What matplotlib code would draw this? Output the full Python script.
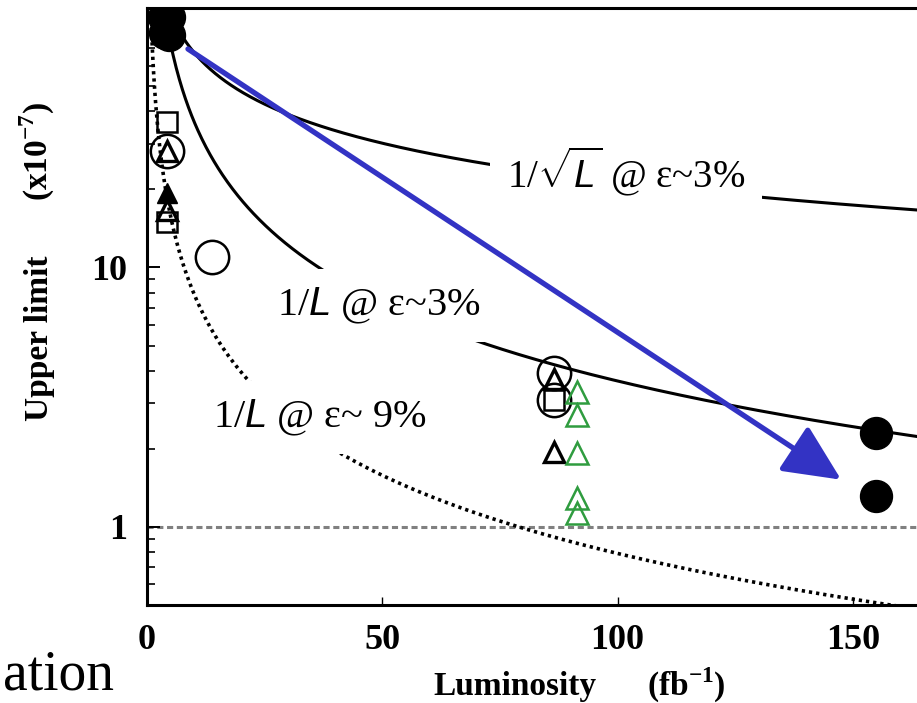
import numpy as np
import matplotlib
matplotlib.use("Agg")
import matplotlib.pyplot as plt
from matplotlib.ticker import LogLocator, NullFormatter, FixedLocator

plt.rcParams['font.family'] = ['Liberation Serif', 'DejaVu Serif']
plt.rcParams['mathtext.fontset'] = 'custom'
plt.rcParams['mathtext.rm'] = 'Liberation Serif'
plt.rcParams['mathtext.it'] = 'Liberation Sans:italic'
plt.rcParams['mathtext.bf'] = 'Liberation Serif:bold'

# ---- scaling curves: upper limit (x1e-7) versus luminosity (fb^-1) ----
k_sqrt_3pct = 213.0   # 1/sqrt(L) scaling, efficiency ~3%
k_inv_3pct = 365.0    # 1/L scaling, efficiency ~3%
k_inv_9pct = 79.0     # 1/L scaling, efficiency ~9%

# ---- measured upper limits ----
filled_circle_lumi = [3.7, 4.7, 3.8, 4.6, 155.0, 155.0]
filled_circle_ul = [92.0, 92.0, 80.0, 79.0, 2.31, 1.31]

open_circle_lumi = [4.2, 13.8, 86.4, 86.4]
open_circle_ul = [28.0, 11.0, 3.93, 3.09]

open_square_lumi = [4.2, 4.2, 86.4]
open_square_ul = [36.3, 15.0, 3.09]

open_tri_lumi = [4.2, 4.2, 86.4, 86.4]
open_tri_ul = [28.0, 16.6, 3.7, 1.95]

filled_tri_lumi = [4.2]
filled_tri_ul = [19.3]

green_tri_lumi = [91.3, 91.3, 91.3, 91.3, 91.3]
green_tri_ul = [3.32, 2.71, 1.93, 1.29, 1.13]

# projection arrow (start -> end), in luminosity / upper-limit units
arrow_start = (8.7, 69.5)
arrow_end = (147.5, 1.52)

x_ticks = [0, 50, 100, 150]
y_ticks = [1, 10]
y_tick_labels = ['1', '10']

W, H = 917, 703
fig = plt.figure(figsize=(W / 100, H / 100), dpi=100)
ax = fig.add_axes([147 / W, 98 / H, 793 / W, 597 / H])
ax.set_yscale('log')
ax.set_xlim(0, 168.5)
ax.set_ylim(0.5, 100)

lumi = np.linspace(0.3, 175, 800)
ax.plot(lumi, k_sqrt_3pct / np.sqrt(lumi), color='black', lw=2.2, zorder=2)
ax.plot(lumi, k_inv_3pct / lumi, color='black', lw=2.2, zorder=2)
ax.plot(lumi, k_inv_9pct / lumi, color='black', lw=2.6,
        linestyle=(0, (0.9, 1.1)), zorder=2)
ax.axhline(1.0, color='#808080', lw=2.2, linestyle=(0, (2.0, 1.2)), zorder=1)

ax.plot(filled_circle_lumi, filled_circle_ul, 'o', ms=23, color='black',
        mec='black', zorder=4)
ax.plot(open_circle_lumi, open_circle_ul, 'o', ms=24, mfc='none',
        mec='black', mew=1.8, zorder=4)
ax.plot(open_square_lumi, open_square_ul, 's', ms=15, mfc='none',
        mec='black', mew=1.8, zorder=4)
ax.plot(open_tri_lumi, open_tri_ul, '^', ms=15, mfc='none',
        mec='black', mew=2.4, zorder=4)
ax.plot(filled_tri_lumi, filled_tri_ul, '^', ms=15, color='black', zorder=4)
ax.plot(green_tri_lumi, green_tri_ul, '^', ms=16, mfc='none',
        mec='#2f9c3f', mew=1.8, zorder=4)

ax.annotate('', xy=arrow_end, xytext=arrow_start,
            arrowprops=dict(arrowstyle='-|>,head_length=1.6,head_width=0.75',
                            color='#3333c4', lw=3.8, mutation_scale=22,
                            shrinkA=0, shrinkB=0),
            zorder=5)

# axes styling
for side in ['left', 'bottom', 'top']:
    ax.spines[side].set_linewidth(2.2)
ax.spines['right'].set_visible(False)

ax.xaxis.set_major_locator(FixedLocator(x_ticks))
ax.set_yticks(y_ticks)
ax.set_yticklabels(y_tick_labels)
ax.yaxis.set_minor_locator(LogLocator(base=10, subs=np.arange(2, 10)))
ax.yaxis.set_minor_formatter(NullFormatter())
ax.tick_params(axis='both', which='major', direction='in', length=9,
               width=1.4, pad=14, labelsize=26)
ax.tick_params(axis='x', which='major', length=6, width=1.0)
ax.tick_params(axis='y', which='minor', direction='in', length=6, width=1.2)
ax.tick_params(top=False, right=False)
for lab in ax.get_xticklabels() + ax.get_yticklabels():
    lab.set_fontweight('bold')


def fx(px):
    return px / W


def fy(py):
    return 1 - py / H


# axis titles
fig.text(fx(515), fy(695), 'Luminosity', ha='center', va='baseline',
         fontsize=24, fontweight='bold')
fig.text(fx(686), fy(695), r'(fb$^{\mathbf{-1}}$)', ha='center', va='baseline',
         fontsize=24, fontweight='bold')
fig.text(fx(40), fy(338), 'Upper limit', ha='center', va='center',
         rotation=90, fontsize=24, fontweight='bold')
fig.text(fx(37), fy(151), r'(x10$^{\mathbf{-7}}$)', ha='center', va='center',
         rotation=90, fontsize=24, fontweight='bold')

# curve labels on white patches
box = dict(facecolor='white', edgecolor='none', pad=12)
fig.text(fx(626), fy(187), r'1/$\sqrt{L}$ @ ε~3%', ha='center',
         va='baseline', fontsize=28, bbox=box, zorder=6)
fig.text(fx(379), fy(315), r'1/$L$ @ ε~3%', ha='center',
         va='baseline', fontsize=29, bbox=box, zorder=6)
fig.text(fx(320), fy(427), r'1/$L$ @ ε~ 9%', ha='center',
         va='baseline', fontsize=29, bbox=box, zorder=6)

# slide text in the lower-left corner
fig.text(fx(3), fy(690), 'ation', ha='left', va='baseline', fontsize=40)

fig.savefig('out.png', dpi=100, facecolor='white')
